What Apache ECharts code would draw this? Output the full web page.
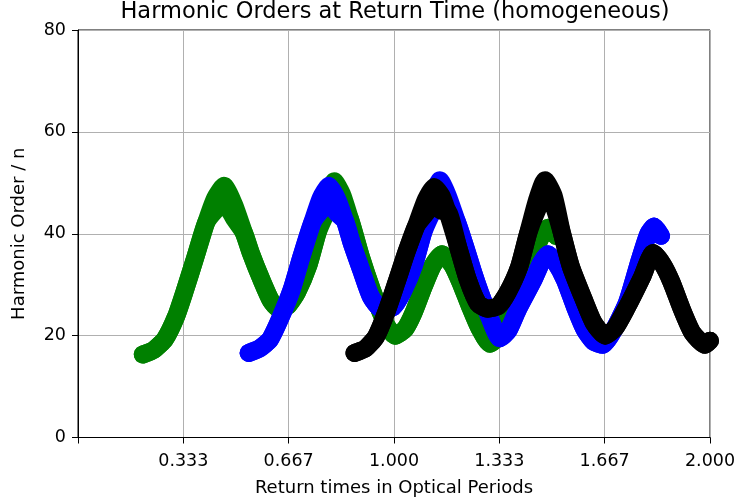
<!DOCTYPE html>
<html>
<head>
<meta charset="utf-8">
<script src="https://cdn.jsdelivr.net/npm/echarts@6/dist/echarts.min.js"></script>
<style>
html,body{margin:0;padding:0;background:#fff;}
#chart{width:736px;height:501px;}
</style>
</head>
<body>
<div id="chart"></div>
<script>
const titleText = "Harmonic Orders at Return Time (homogeneous)";
const xAxisName = "Return times in Optical Periods";
const yAxisName = "Harmonic Order / n";
const xTicks = [0.333, 0.667, 1.000, 1.333, 1.667, 2.000];
const yTicks = [0, 20, 40, 60, 80];

// centre of each band (upper trajectory) and inner edge trajectory (lower peaks)
const greenX  = [0.205,0.240,0.275,0.310,0.339,0.372,0.405,0.434,0.462,0.494,0.525,0.547,0.581,0.611,0.635,0.663,0.693,0.729,0.757,0.785,0.811,0.835,0.860,0.895,0.930,0.955,0.978,1.003,1.035,1.062,1.095,1.123,1.152,1.184,1.210,1.240,1.270,1.304,1.340,1.383,1.424,1.465,1.487,1.512];
const greenY  = [16.3,17.2,19.3,23.7,29.0,35.5,42.1,47.0,49.4,45.7,40.2,36.2,30.9,26.8,25.3,25.8,28.5,33.8,40.0,46.3,50.3,47.8,43.0,35.5,29.0,25.0,21.8,20.0,21.3,24.5,29.8,33.8,36.0,33.9,30.5,25.8,21.5,18.4,20.5,27.0,33.5,39.4,41.2,39.6];
const greenY2 = [16.3,17.2,19.3,23.7,29.0,35.5,42.1,44.5,46.0,43.0,40.2,36.2,30.9,26.8,25.3,25.8,28.5,33.8,40.0,44.0,47.0,45.0,43.0,35.5,29.0,25.0,21.8,20.0,21.3,24.5,29.8,33.8,36.0,33.9,30.5,25.8,21.5,18.4,20.5,27.0,33.5,39.4,41.2,39.6];

const blueX  = [0.540,0.575,0.608,0.642,0.676,0.707,0.741,0.768,0.794,0.820,0.845,0.866,0.896,0.927,0.960,0.997,1.027,1.063,1.091,1.119,1.145,1.170,1.198,1.225,1.250,1.272,1.301,1.335,1.362,1.391,1.441,1.465,1.487,1.510,1.541,1.573,1.604,1.632,1.661,1.690,1.737,1.778,1.805,1.823,1.845];
const blueY  = [16.6,17.5,19.3,23.7,29.0,35.5,42.1,47.0,49.4,46.8,42.5,38.2,32.9,27.6,25.2,25.6,28.5,33.8,40.0,46.5,50.5,47.5,42.5,37.5,32.5,28.5,23.8,19.5,21.0,25.0,30.9,34.2,36.0,34.5,30.9,25.6,21.1,18.8,18.2,20.5,26.4,34.9,40.0,41.4,39.6];
const blueY2 = [16.6,17.5,19.3,23.7,29.0,35.5,42.1,44.5,46.0,44.0,42.5,38.2,32.9,27.6,25.2,25.6,28.5,33.8,40.0,44.0,47.0,45.0,42.5,37.5,32.5,28.5,23.8,19.5,21.0,25.0,30.9,34.2,36.0,34.5,30.9,25.6,21.1,18.8,18.2,20.5,26.4,34.9,40.0,41.4,39.6];

const blackX  = [0.875,0.910,0.943,0.975,1.008,1.040,1.070,1.101,1.127,1.150,1.168,1.203,1.234,1.266,1.297,1.330,1.360,1.396,1.424,1.452,1.478,1.505,1.532,1.560,1.601,1.632,1.668,1.700,1.735,1.785,1.820,1.850,1.878,1.912,1.945,1.985,2.000];
const blackY  = [16.6,17.5,19.8,24.5,30.5,36.5,41.5,46.7,49.2,47.5,44.5,37.4,30.9,26.3,25.3,25.8,28.5,33.5,40.0,46.5,50.5,47.5,40.0,33.5,27.0,22.5,20.0,21.5,25.3,31.5,36.2,34.0,30.5,25.0,20.5,18.2,19.0];
const blackY2 = [16.6,17.5,19.8,24.5,30.5,36.5,41.5,44.0,45.8,44.5,44.5,37.4,30.9,26.3,25.3,25.8,28.5,33.5,40.0,44.5,47.5,45.5,40.0,33.5,27.0,22.5,20.0,21.5,25.3,31.5,36.2,34.0,30.5,25.0,20.5,18.2,19.0];

const FONT = 'DejaVu Sans';
function pts(xs, ys){ return xs.map((x,i)=>[x, ys[i]]); }
function band(name, color, xs, ys){
  return {
    name: name, type: 'line', data: pts(xs, ys),
    symbol: 'none', smooth: 0.2, clip: false,
    lineStyle: {color: color, width: 18, cap: 'round', join: 'round'},
    emphasis: {disabled: true}, animation: false
  };
}

const chart = echarts.init(document.getElementById('chart'), null, {renderer: 'canvas'});
chart.setOption({
  animation: false,
  backgroundColor: '#fff',
  title: {
    text: titleText, left: 390, top: -4, textAlign: 'center',
    textStyle: {fontFamily: FONT, fontSize: 22.5, fontWeight: 'normal', color: '#000'}
  },
  grid: {left: 78, right: 26, top: 30, bottom: 63.5, outerBoundsMode: 'none', containLabel: false,
         show: true, borderColor: '#000', borderWidth: 1, backgroundColor: 'transparent'},
  xAxis: {
    type: 'value', min: 0, max: 2, interval: 1/3,
    name: xAxisName, nameLocation: 'middle', nameGap: 42,
    nameTextStyle: {fontFamily: FONT, fontSize: 18, color: '#000'},
    axisLine: {show: true, lineStyle: {color: '#000', width: 1}},
    axisTick: {show: true, length: 6, lineStyle: {color: '#000'}},
    axisLabel: {
      fontFamily: FONT, fontSize: 17.5, color: '#000', margin: 15,
      formatter: function(v){
        if (v < 1e-6) return '';
        let best = xTicks.reduce((a,b)=>Math.abs(b-v)<Math.abs(a-v)?b:a);
        return best.toFixed(3);
      }
    },
    splitLine: {show: true, lineStyle: {color: '#b0b0b0', width: 1}}
  },
  yAxis: {
    type: 'value', min: yTicks[0], max: yTicks[yTicks.length-1], interval: 20,
    name: yAxisName, nameLocation: 'middle', nameGap: 50, nameRotate: 90,
    nameTextStyle: {fontFamily: FONT, fontSize: 18, color: '#000'},
    axisLine: {show: true, lineStyle: {color: '#000', width: 1}},
    axisTick: {show: true, length: 6, lineStyle: {color: '#000'}},
    axisLabel: {fontFamily: FONT, fontSize: 17.5, color: '#000', margin: 12},
    splitLine: {show: true, lineStyle: {color: '#b0b0b0', width: 1}}
  },
  series: [
    band('green', '#008000', greenX, greenY),
    band('green inner', '#008000', greenX, greenY2),
    band('blue', '#0000ff', blueX, blueY),
    band('blue inner', '#0000ff', blueX, blueY2),
    band('black', '#000000', blackX, blackY),
    band('black inner', '#000000', blackX, blackY2)
  ]
});
</script>
</body>
</html>
